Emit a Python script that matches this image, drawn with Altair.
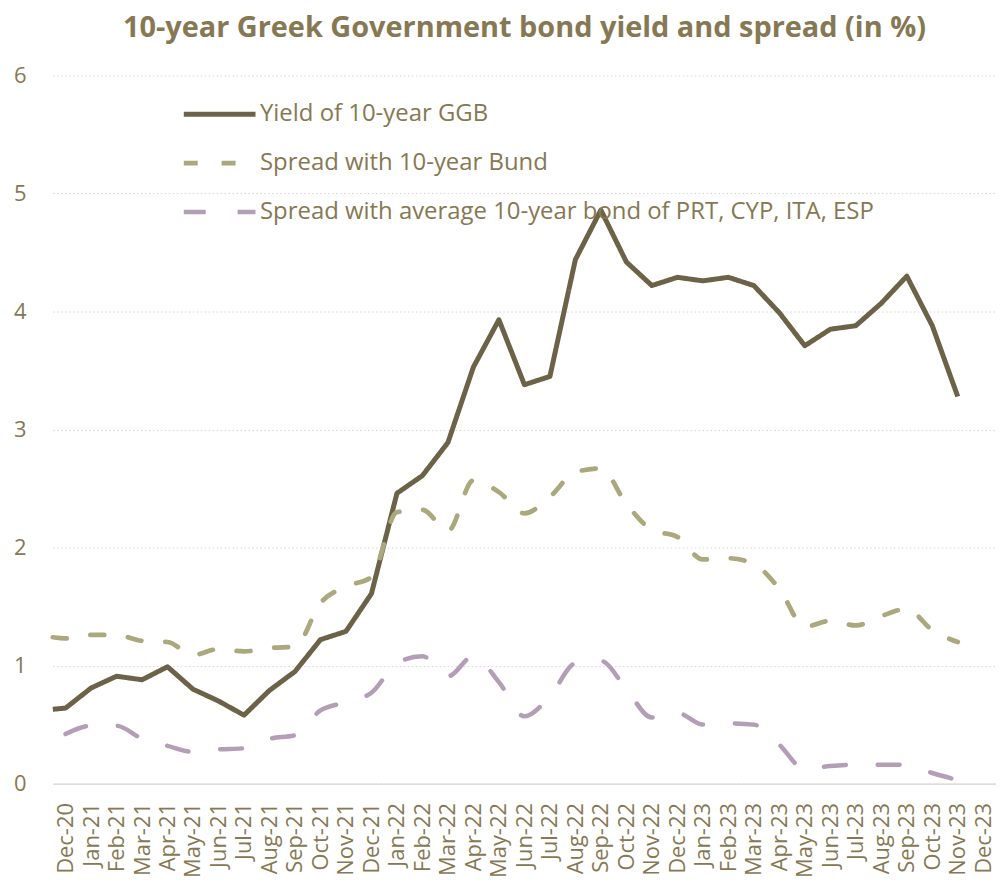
import altair as alt
import pandas as pd

months = ["Dec-20", "Jan-21", "Feb-21", "Mar-21", "Apr-21", "May-21", "Jun-21", "Jul-21",
          "Aug-21", "Sep-21", "Oct-21", "Nov-21", "Dec-21", "Jan-22", "Feb-22", "Mar-22",
          "Apr-22", "May-22", "Jun-22", "Jul-22", "Aug-22", "Sep-22", "Oct-22", "Nov-22",
          "Dec-22", "Jan-23", "Feb-23", "Mar-23", "Apr-23", "May-23", "Jun-23", "Jul-23",
          "Aug-23", "Sep-23", "Oct-23", "Nov-23", "Dec-23"]

series_names = ["Yield of 10-year GGB",
                "Spread with 10-year Bund",
                "Spread with average 10-year bond of PRT, CYP, ITA, ESP"]

# value at the very start of the period (left edge of the axis)
start_pos = -0.5
yield_start = 0.63
bund_start = 1.24

# monthly values Dec-20 .. Nov-23
yield_vals = [0.64, 0.81, 0.91, 0.88, 0.99, 0.80, 0.70, 0.58, 0.79, 0.95, 1.22, 1.29,
              1.61, 2.46, 2.61, 2.89, 3.53, 3.93, 3.38, 3.45, 4.44, 4.86, 4.42, 4.22,
              4.29, 4.26, 4.29, 4.22, 3.99, 3.71, 3.85, 3.88, 4.07, 4.30, 3.88, 3.28]
bund_vals = [1.23, 1.26, 1.26, 1.21, 1.20, 1.09, 1.14, 1.12, 1.15, 1.16, 1.53, 1.67,
             1.75, 2.30, 2.32, 2.14, 2.57, 2.47, 2.29, 2.43, 2.64, 2.67, 2.37, 2.15,
             2.09, 1.90, 1.91, 1.86, 1.65, 1.33, 1.38, 1.34, 1.42, 1.48, 1.30, 1.20]
avg_vals = [0.42, 0.49, 0.49, 0.38, 0.32, 0.27, 0.29, 0.30, 0.38, 0.41, 0.62, 0.69,
            0.77, 1.02, 1.08, 0.91, 1.08, 0.86, 0.57, 0.74, 1.02, 1.04, 0.80, 0.56,
            0.60, 0.50, 0.51, 0.50, 0.33, 0.12, 0.15, 0.16, 0.16, 0.16, 0.09, 0.03]

rows = [{"series": series_names[0], "x": start_pos, "v": yield_start},
        {"series": series_names[1], "x": start_pos, "v": bund_start}]
for name, vals in zip(series_names, [yield_vals, bund_vals, avg_vals]):
    for i, v in enumerate(vals):
        rows.append({"series": name, "x": i, "v": v})
df = pd.DataFrame(rows)

TEXT = "#867852"
FONT = "Open Sans"

label_expr = "[" + ",".join("'" + m + "'" for m in months) + "][datum.value]"

legend = alt.Legend(
    title=None, orient="none", legendX=129, legendY=24,
    symbolType="stroke", symbolSize=5184, clipHeight=30, rowPadding=19,
    labelFont=FONT, labelFontSize=24, labelColor=TEXT, labelLimit=0, labelOffset=2,
)

base = alt.Chart(df).encode(
    x=alt.X("x:Q", title=None,
            scale=alt.Scale(domain=[-0.5, len(months) - 0.5], nice=False, zero=False),
            axis=alt.Axis(values=list(range(len(months))), labelExpr=label_expr,
                          labelAngle=270, labelFont=FONT, labelFontSize=22,
                          labelColor=TEXT, labelPadding=19, ticks=False, tickSize=0,
                          grid=False, domainColor="#DDD5CC", domainWidth=1.5,
                          labelOverlap=False)),
    y=alt.Y("v:Q", title=None,
            scale=alt.Scale(domain=[0, 6], nice=False),
            axis=alt.Axis(values=[0, 1, 2, 3, 4, 5, 6], labelFont=FONT, labelFontSize=22,
                          labelColor=TEXT, labelPadding=27, ticks=False, tickSize=0,
                          domain=False, grid=True, gridColor="#D6D6D6",
                          gridDash=[1.5, 2.5], gridWidth=1)),
    color=alt.Color("series:N", legend=legend,
                    scale=alt.Scale(domain=series_names,
                                    range=["#6B6247", "#ABA87D", "#B49DB7"])),
    strokeDash=alt.StrokeDash("series:N", legend=legend,
                              scale=alt.Scale(domain=series_names,
                                              range=[[1, 0], [14, 24], [22, 32]])),
    strokeWidth=alt.StrokeWidth("series:N", legend=legend,
                                scale=alt.Scale(domain=series_names,
                                                range=[5, 4.5, 6.5])),
    order="x:Q",
)

yield_layer = base.transform_filter(
    alt.datum.series == series_names[0]
).mark_line(strokeJoin="round")

spread_layer = base.transform_filter(
    alt.datum.series != series_names[0]
).mark_line(interpolate="monotone", strokeCap="round", strokeJoin="round")

chart = alt.layer(yield_layer, spread_layer).properties(
    width=947, height=711,
    padding={"left": 5, "top": 4, "right": 0, "bottom": 0},
    title=alt.TitleParams(
        "10-year Greek Government bond yield and spread (in %)",
        font=FONT, fontSize=29, fontWeight="bold", color=TEXT,
        anchor="middle", offset=22,
    ),
).configure_view(stroke=None)

chart.save("out.html", embed_options={"renderer": "svg", "actions": False})
